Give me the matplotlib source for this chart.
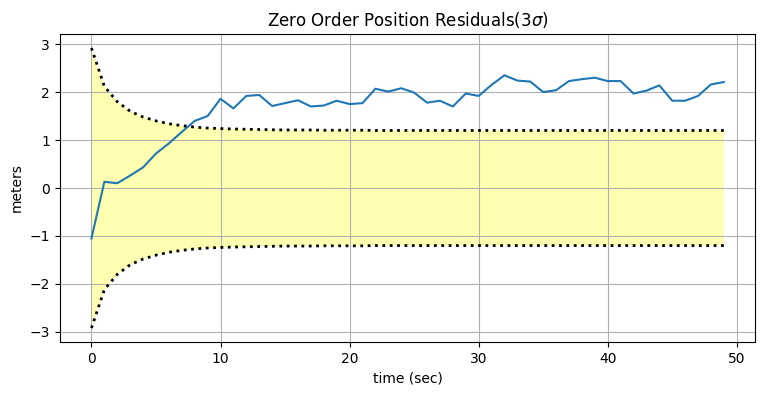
import numpy as np
import matplotlib
matplotlib.use('Agg')
import matplotlib.pyplot as plt

# residuals
residuals = [-1.05, 0.13, 0.10, 0.26, 0.43, 0.72, 0.93, 1.17, 1.40, 1.50,
             1.86, 1.66, 1.92, 1.94, 1.71, 1.77, 1.83, 1.70, 1.72, 1.82,
             1.75, 1.77, 2.07, 2.01, 2.08, 1.99, 1.78, 1.82, 1.70, 1.97,
             1.92, 2.15, 2.35, 2.24, 2.22, 2.00, 2.04, 2.23, 2.27, 2.30,
             2.23, 2.23, 1.97, 2.03, 2.14, 1.82, 1.82, 1.92, 2.16, 2.21]

# 3 sigma bound
std3 = [2.92, 2.12, 1.80, 1.60, 1.48, 1.40, 1.34, 1.30, 1.27, 1.25,
        1.24, 1.23, 1.225, 1.22, 1.215, 1.21, 1.21, 1.21, 1.205, 1.205,
        1.205, 1.205, 1.2, 1.2, 1.2, 1.2, 1.2, 1.2, 1.2, 1.2,
        1.2, 1.2, 1.2, 1.2, 1.2, 1.2, 1.2, 1.2, 1.2, 1.2,
        1.2, 1.2, 1.2, 1.2, 1.2, 1.2, 1.2, 1.2, 1.2, 1.2]

t = np.arange(len(residuals))
std3 = np.array(std3)

fig, ax = plt.subplots(figsize=(7.67, 3.95), dpi=100)
ax.plot(t, residuals)
ax.plot(t, std3, color='k', ls=':', lw=2)
ax.plot(t, -std3, color='k', ls=':', lw=2)
ax.fill_between(t, -std3, std3, facecolor='#ffff00', alpha=0.3)
ax.set_title(r'Zero Order Position Residuals(3$\sigma$)')
ax.set_xlabel('time (sec)')
ax.set_ylabel('meters')
ax.grid(True)
plt.subplots_adjust(left=0.078, right=0.985, top=0.914, bottom=0.134)
plt.savefig('out.png')
